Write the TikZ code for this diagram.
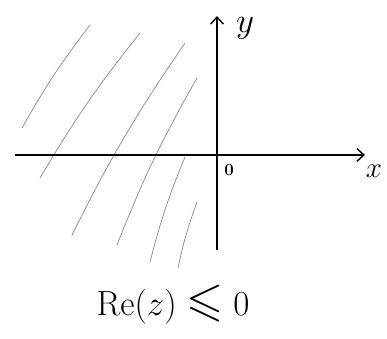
\documentclass[tikz,border=0pt]{standalone}
\usepackage{amsmath,amssymb}
\usetikzlibrary{arrows.meta}

\begin{document}
\begin{tikzpicture}[x=0.025cm,y=0.025cm]
\definecolor{hatchGray}{HTML}{8A8A8A}
\tikzset{
  axisline/.style={line width=1.1pt,-{Straight Barb[length=5pt,width=9pt,line width=1pt]}},
  hatchline/.style={hatchGray,line width=0.5pt,line cap=round}
}
\useasboundingbox (0,0) rectangle (387,338);
% hatching of the left half plane
\foreach \xa/\ya/\xb/\yb in {90/313/22/210,140/305/40/160,185/295/72/103,197/260/117/93,185/181/150/76,197/136/178/70} {
  \draw[hatchline] (\xa,\ya) to[bend right=4] (\xb,\yb);
}
% axes
\coordinate (O) at (217,183);
\coordinate (xstart) at (15,183);
\coordinate (xend) at (365,183);
\coordinate (ystart) at (217,88);
\coordinate (yend) at (217,322);
\draw[axisline] (xstart) -- (xend);
\draw[axisline] (ystart) -- (yend);
\node (xlab) at (374,167) {\fontsize{22}{22}\selectfont $x$};
\node (ylab) at (245,310) {\fontsize{24}{24}\selectfont $y$};
\node (olab) at (229,168) {\fontsize{13}{13}\selectfont $\mathbf{0}$};
\node (region) at (173,33) {\fontsize{34}{34}\selectfont $\mathrm{Re}(z)\leqslant 0$};
\end{tikzpicture}
\end{document}
